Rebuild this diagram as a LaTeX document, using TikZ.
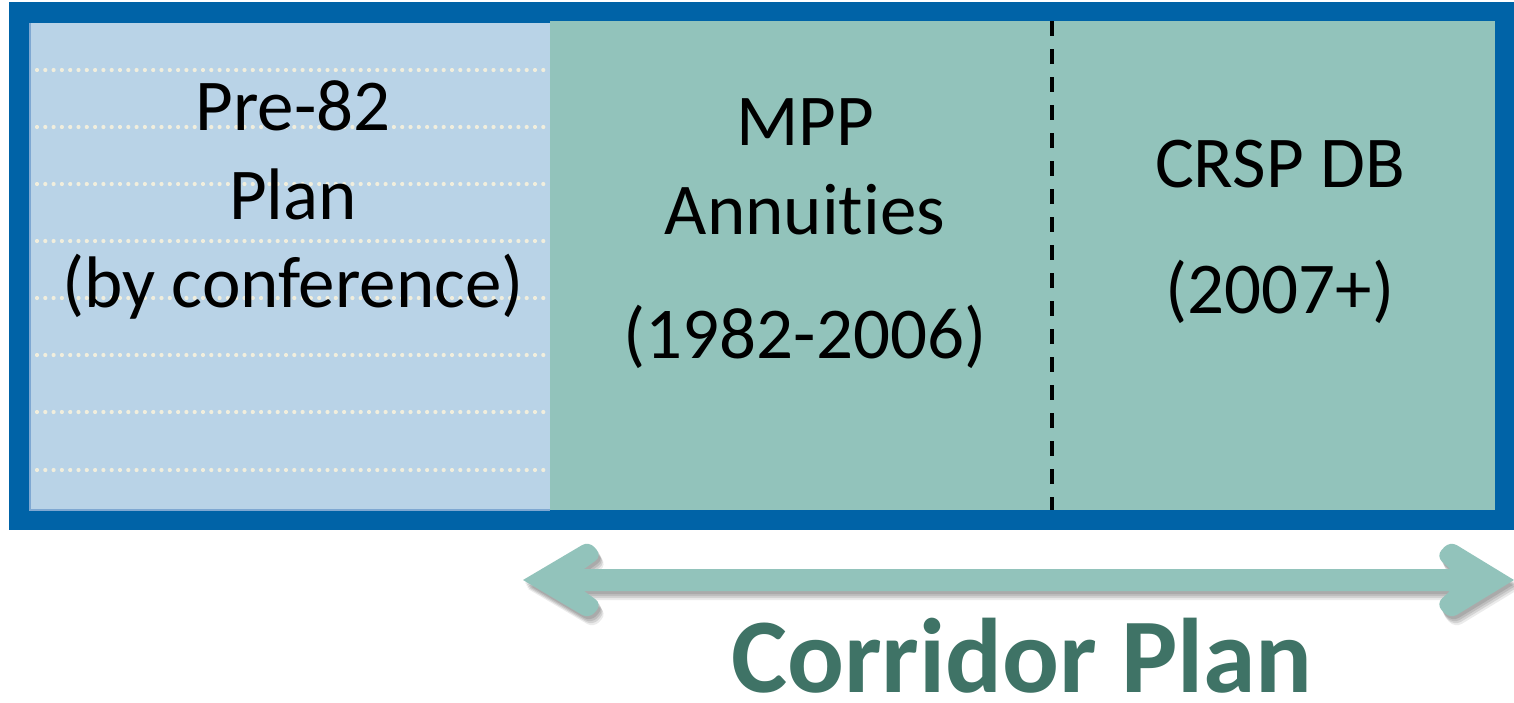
\documentclass[tikz,border=0pt]{standalone}
\usepackage{fontspec}
\setmainfont[Ligatures={NoCommon}]{Carlito}
\definecolor{frameblue}{HTML}{0063A7}
\definecolor{lightpanel}{HTML}{B9D3E7}
\definecolor{lightedge}{HTML}{7FA8D2}
\definecolor{greenpanel}{HTML}{92C3BB}
\definecolor{dotcream}{HTML}{F1EEDD}
\definecolor{titleteal}{HTML}{3F7366}
\begin{document}
\begin{tikzpicture}[x=0.5pt,y=-0.5pt,
  body/.style={anchor=base, inner sep=0pt, text=black, font=\fontsize{36.5}{44}\selectfont},
  title/.style={anchor=base, inner sep=0pt, text=titleteal, font=\fontsize{53}{60}\selectfont\bfseries},
  dotline/.style={draw=dotcream, line width=2.1pt, line cap=round, dash pattern=on 0pt off 4.15pt},
  divider/.style={draw=black, line width=1.6pt, dash pattern=on 7.5pt off 6.5pt},
  arrowbody/.style={fill=greenpanel}
]
\useasboundingbox (0,0) rectangle (1514,702);
% frame and panels
\fill[frameblue] (9,2) rectangle (1514,530);
\fill[lightpanel] (30,23) rectangle (550,510);
\draw[lightedge, line width=0.6pt] (30,23) -- (30,510) -- (550,510);
\fill[greenpanel] (550,21) rectangle (1495,510);
\foreach \yy in {70,127,184,241,298,355,412,470}
  \draw[dotline] (37,\yy) -- (546,\yy);
\coordinate (dtop) at (1052,21);
\coordinate (dbot) at (1052,510);
\draw[divider] (dtop) -- (dbot);
% texts
\node[body] (pre) at (293,130) {Pre-82};
\node[body] (plan) at (293,219) {Plan};
\node[body] (conf) at (293,307) {(by conference)};
\node[body] (mpp) at (805,145) {MPP};
\node[body] (ann) at (805,234) {Annuities};
\node[body] (mppyr) at (805,358) {(1982-2006)};
\node[body] (crsp) at (1280,187) {CRSP DB};
\node[body] (crspyr) at (1280,313) {(2007+)};
% double arrow with soft shadow
\foreach \dx/\dy/\op in {2/3/0.10,3/5/0.10,4/7/0.10,5/9/0.08}{
\fill[black, opacity=\op, shift={(\dx,\dy)}]
  (523,580) [rounded corners=4pt] -- (589,541) -- (602,556) [sharp corners] -- (584,569)
  -- (1450,569) [rounded corners=4pt] -- (1436,556) -- (1450,541) [sharp corners] -- (1514,580)
  [rounded corners=4pt] -- (1450,619) -- (1436,604) [sharp corners] -- (1450,591)
  -- (584,591) [rounded corners=4pt] -- (602,604) -- (589,619) [sharp corners] -- cycle;
}
\fill[arrowbody]
  (523,580) [rounded corners=4pt] -- (589,541) -- (602,556) [sharp corners] -- (584,569)
  -- (1450,569) [rounded corners=4pt] -- (1436,556) -- (1450,541) [sharp corners] -- (1514,580)
  [rounded corners=4pt] -- (1450,619) -- (1436,604) [sharp corners] -- (1450,591)
  -- (584,591) [rounded corners=4pt] -- (602,604) -- (589,619) [sharp corners] -- cycle;
\node[title] (corridor) at (1022,692) {Corridor Plan};
\end{tikzpicture}
\end{document}
